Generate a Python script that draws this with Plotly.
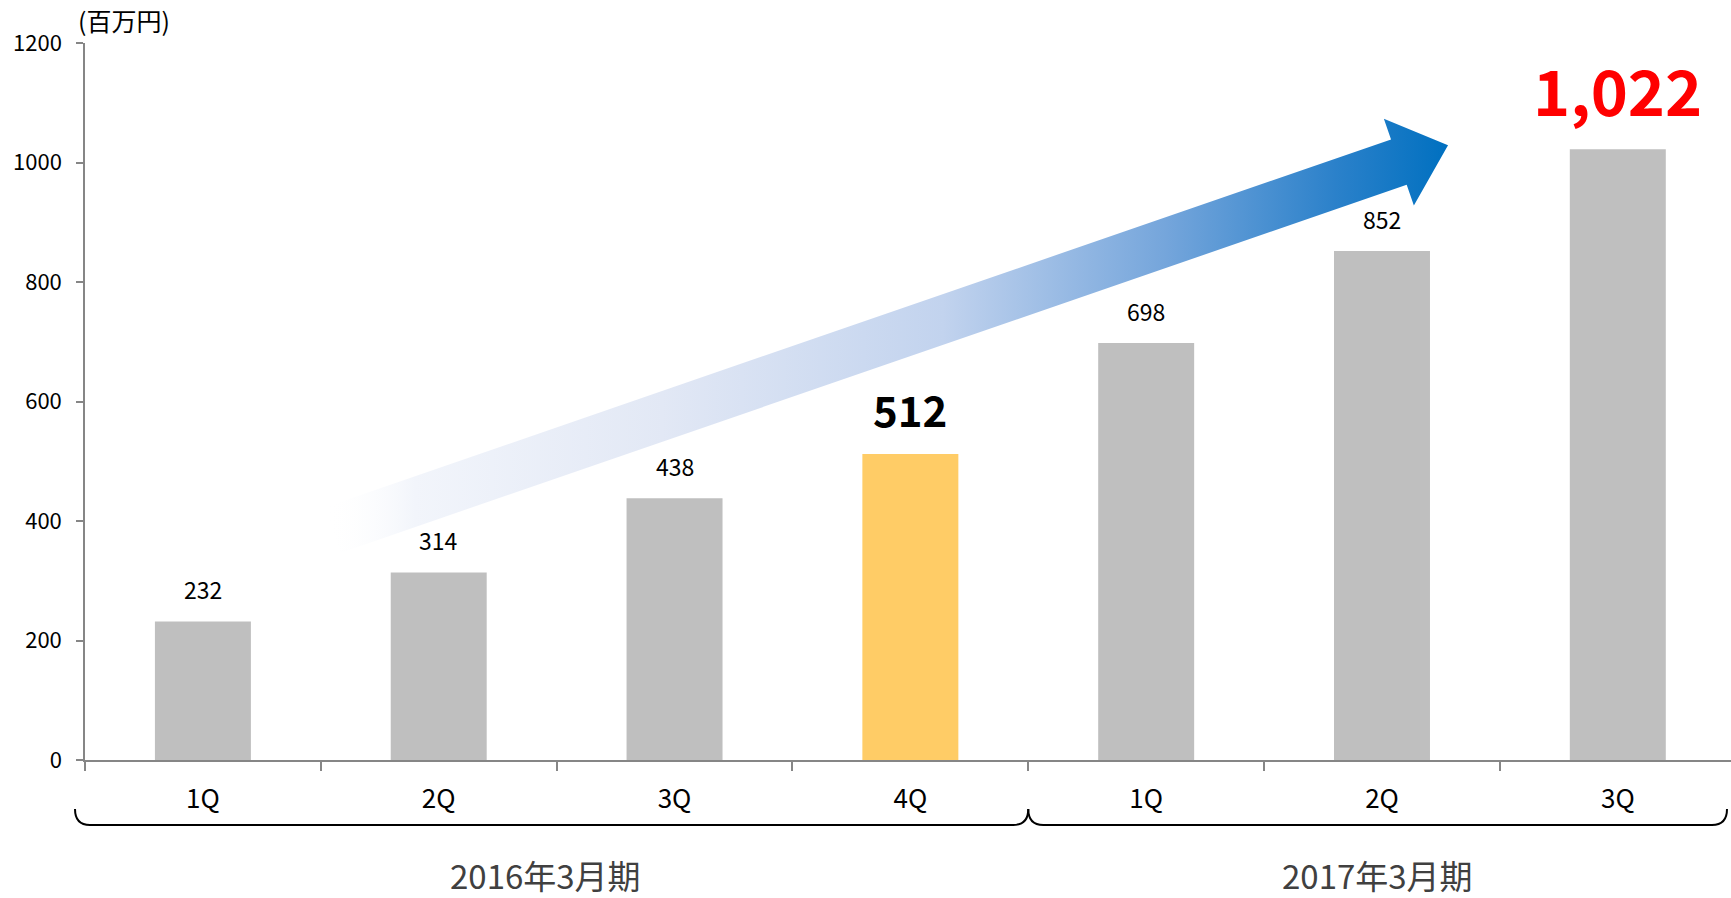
import numpy as np
import plotly.graph_objects as go

# ---- データ ----
QUARTERS = ["1Q", "2Q", "3Q", "4Q", "1Q", "2Q", "3Q"]
FISCAL_YEARS = ["2016年3月期", "2017年3月期"]
QUARTERS_PER_YEAR = [4, 3]
SALES = [232, 314, 438, 512, 698, 852, 1022]
Y_TICKS = [0, 200, 400, 600, 800, 1000, 1200]
UNIT_LABEL = "(百万円)"

# ---- 見た目 ----
FONT = "Noto Sans CJK JP, Noto Sans, sans-serif"
AXIS_COLOR = "#868686"
BAR_COLOR = "#BFBFBF"
HIGHLIGHT_BAR = 3                      # 4Q を黄色に
HIGHLIGHT_COLOR = "#FFCC66"
# 強調ラベル: index -> (色, サイズ)
LABEL_EMPHASIS = {3: ("#000000", 42), 6: ("#FF0000", 63)}

W, H = 1731, 898
M_L, M_R, M_T, M_B = 85, 0, 43, 138
X_RANGE = [-0.5, 6.48]
Y_RANGE = [0, 1200]
PLOT_W = W - M_L - M_R
PLOT_H = H - M_T - M_B
PX_X = PLOT_W / (X_RANGE[1] - X_RANGE[0])   # px / カテゴリ
PX_Y = PLOT_H / (Y_RANGE[1] - Y_RANGE[0])   # px / 百万円

x = np.arange(len(SALES))

fig = go.Figure()

# 棒グラフ
colors = [HIGHLIGHT_COLOR if i == HIGHLIGHT_BAR else BAR_COLOR for i in x]
fig.add_trace(go.Bar(
    x=x, y=SALES, width=0.407,
    marker=dict(color=colors, line=dict(width=0)),
    hoverinfo="skip",
))

# 成長矢印 (データ座標で始点・終点を決め、px 空間で形を作る)
tail = np.array([0.552, 385.0])
tip = np.array([5.28, 1029.0])
scale = np.array([PX_X, PX_Y])
t_px, h_px = tail * scale, tip * scale
u = (h_px - t_px) / np.linalg.norm(h_px - t_px)
n = np.array([-u[1], u[0]])
shaft_hw, head_hw, head_len = 24, 46, 52
base = h_px - u * head_len
pts = [t_px + n * shaft_hw, base + n * shaft_hw, base + n * head_hw, h_px,
       base - n * head_hw, base - n * shaft_hw, t_px - n * shaft_hw,
       t_px + n * shaft_hw]
pts = np.array(pts) / scale
fig.add_trace(go.Scatter(
    x=pts[:, 0], y=pts[:, 1], mode="lines", fill="toself",
    line=dict(width=0, color="rgba(0,0,0,0)"),
    fillgradient=dict(
        type="horizontal",
        start=pts[:, 0].min(), stop=pts[:, 0].max(),
        colorscale=[
            [0.0, "rgba(255,255,255,0)"],
            [0.08, "#f2f5fb"],
            [0.3, "#e2e8f5"],
            [0.55, "#c2d3ee"],
            [0.75, "#74a5db"],
            [0.9, "#2b81ca"],
            [1.0, "#0070c0"],
        ],
    ),
    hoverinfo="skip",
))

# 値ラベル
for i, v in enumerate(SALES):
    color, size = LABEL_EMPHASIS.get(i, ("#000000", 23))
    text = f"{v:,}" if i == len(SALES) - 1 else f"{v}"
    if i in LABEL_EMPHASIS:
        text = f"<b>{text}</b>"
    fig.add_annotation(
        x=i, y=v, text=text, showarrow=False,
        xanchor="center", yanchor="bottom", yshift=13,
        font=dict(family=FONT, size=size, color=color),
    )


# 年度の括弧と年度ラベル (paper 座標で描く: 軸外でも切れないように)
def paper_x(ix):
    return (ix - X_RANGE[0]) / (X_RANGE[1] - X_RANGE[0])


def paper_y(py):
    return (H - M_B - py) / PLOT_H


y_line, y_top = paper_y(825), paper_y(809)
rx = 15 / PLOT_W
start = -0.5
for k, (label, nq) in enumerate(zip(FISCAL_YEARS, QUARTERS_PER_YEAR)):
    x0 = paper_x(start) - (10 / PLOT_W if k == 0 else 0)
    x1 = paper_x(start + nq)
    if k == len(FISCAL_YEARS) - 1:
        x1 = 1 - 4 / PLOT_W
    path = (f"M {x0},{y_top} Q {x0},{y_line} {x0 + rx},{y_line} "
            f"L {x1 - rx},{y_line} Q {x1},{y_line} {x1},{y_top}")
    fig.add_shape(type="path", path=path, xref="paper", yref="paper",
                  line=dict(color="#000000", width=2))
    fig.add_annotation(
        x=(x0 + x1) / 2 - (6 / PLOT_W if k == 0 else 0), y=paper_y(875),
        xref="paper", yref="paper",
        text=label, showarrow=False, xanchor="center", yanchor="middle",
        font=dict(family=FONT, size=33, color="#404040"),
    )
    start += nq

# 単位
fig.add_annotation(
    x=(76 - M_L) / PLOT_W, y=1 + (M_T - 20) / PLOT_H, xref="paper", yref="paper",
    text=UNIT_LABEL, showarrow=False, xanchor="left", yanchor="middle",
    font=dict(family=FONT, size=25, color="#000000"),
)

fig.update_layout(
    width=W, height=H,
    margin=dict(l=M_L, r=M_R, t=M_T, b=M_B),
    plot_bgcolor="white", paper_bgcolor="white",
    showlegend=False,
    font=dict(family=FONT, color="#000000"),
    xaxis=dict(
        range=X_RANGE, tickmode="array", tickvals=list(x), ticktext=QUARTERS,
        ticks="", showgrid=False, zeroline=False,
        showline=True, linecolor=AXIS_COLOR, linewidth=1.5,
        tickfont=dict(size=26, color="#000000"),
        ticklabelstandoff=15,
        minor=dict(tick0=-0.5, dtick=1, ticks="outside", ticklen=9,
                   tickcolor=AXIS_COLOR, tickwidth=1.5, showgrid=False),
    ),
    yaxis=dict(
        range=Y_RANGE, tickmode="array", tickvals=Y_TICKS,
        ticks="outside", ticklen=7, tickcolor=AXIS_COLOR, tickwidth=1.5,
        showgrid=False, zeroline=False,
        showline=True, linecolor=AXIS_COLOR, linewidth=1.5,
        tickfont=dict(size=22, color="#000000"),
        ticklabelstandoff=10,
    ),
)

fig.write_html("out.html", config={"displayModeBar": False},
               post_script="document.body.style.margin='0';")
